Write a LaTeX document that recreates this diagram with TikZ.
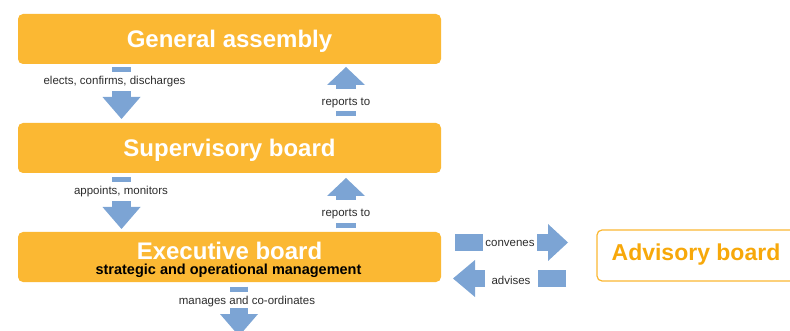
\documentclass[tikz,border=0pt]{standalone}
\usepackage{fontspec}
\setmainfont{Liberation Sans}
\usetikzlibrary{arrows.meta}
\definecolor{boxorange}{RGB}{251,184,51}
\definecolor{advorange}{RGB}{247,168,10}
\definecolor{arrowblue}{RGB}{124,164,212}
\definecolor{labelgray}{RGB}{45,45,45}
\begin{document}
\begin{tikzpicture}[x=1pt,y=-1pt,
  govbox/.style={fill=boxorange, rounded corners=5pt, minimum width=423pt,
    minimum height=50pt, inner sep=0pt, text=white,
    font=\fontsize{24}{26}\selectfont\bfseries, text height=18.5pt, text depth=1.5pt},
  advbox/.style={draw=boxorange, line width=1.2pt, fill=white, rounded corners=5pt,
    minimum width=198pt, minimum height=51pt, inner sep=0pt, text=advorange,
    font=\fontsize{23}{25}\selectfont\bfseries, text height=15pt, text depth=4pt},
  blockarrow/.style={draw=arrowblue, line width=#1},
  vtip/.style={-{Triangle[width=38pt,length=#1,line width=0pt]}},
  htip/.style={-{Triangle[width=37pt,length=#1,line width=0pt]}},
  lbl/.style={fill=white, text=labelgray, font=\fontsize{11.5}{13}\selectfont,
    inner xsep=1pt, inner ysep=0pt, anchor=base}]
\useasboundingbox (0,0) rectangle (790,331);

% boxes
\node[govbox] (ga) at (229.5,39) {General assembly};
\node[govbox] (sb) at (229.5,148) {Supervisory board};
\node[govbox] (eb) at (229.5,257) {};
\node[anchor=base, inner sep=0pt, text=white, font=\fontsize{24}{26}\selectfont\bfseries]
  (ebt) at (229.5,259) {Executive board};
\node[anchor=base, inner sep=0pt, text=black, font=\fontsize{14.5}{16}\selectfont\bfseries]
  (ebs) at (228.5,275) {strategic and operational management};
\node[advbox] (ab) at (696,255.5) {Advisory board};

% connector end points
\coordinate (d1s) at (121.5,67.5);  \coordinate (d1e) at (121.5,119);
\coordinate (u1s) at (346,116.5);   \coordinate (u1e) at (346,67);
\coordinate (d2s) at (121.5,177.5); \coordinate (d2e) at (121.5,229);
\coordinate (u2s) at (346,228.5);   \coordinate (u2e) at (346,178);
\coordinate (d3s) at (239,286.5);   \coordinate (d3e) at (239,336);
\coordinate (cvs) at (455,242.5);   \coordinate (cve) at (568,242.5);
\coordinate (avs) at (566,278.5);   \coordinate (ave) at (453,278.5);

% arrows
\draw[blockarrow=19pt, vtip=22pt] (d1s) -- (d1e);
\draw[blockarrow=20pt, vtip=18pt] (u1s) -- (u1e);
\draw[blockarrow=19pt, vtip=22pt] (d2s) -- (d2e);
\draw[blockarrow=20pt, vtip=18pt] (u2s) -- (u2e);
\draw[blockarrow=18pt, vtip=22pt] (d3s) -- (d3e);
\draw[blockarrow=17pt, htip=20pt] (cvs) -- (cve);
\draw[blockarrow=17pt, htip=22pt] (avs) -- (ave);

% labels
\node[lbl, text height=13pt, text depth=6pt] (l1) at (114.5,85) {elects, confirms, discharges};
\node[lbl, text height=17pt, text depth=5pt] (l2) at (346,106) {reports to};
\node[lbl, text height=12.5pt, text depth=6.5pt] (l3) at (121,194.5) {appoints, monitors};
\node[lbl, text height=17pt, text depth=6pt] (l4) at (346,217) {reports to};
\node[lbl, text height=12pt, text depth=4pt] (l5) at (247,304) {manages and co-ordinates};
\node[lbl, text height=13pt, text depth=4pt, minimum width=54pt] (l6) at (510,247) {convenes};
\node[lbl, text height=14pt, text depth=3pt, minimum width=53pt] (l7) at (511,284) {advises};
\end{tikzpicture}
\end{document}
